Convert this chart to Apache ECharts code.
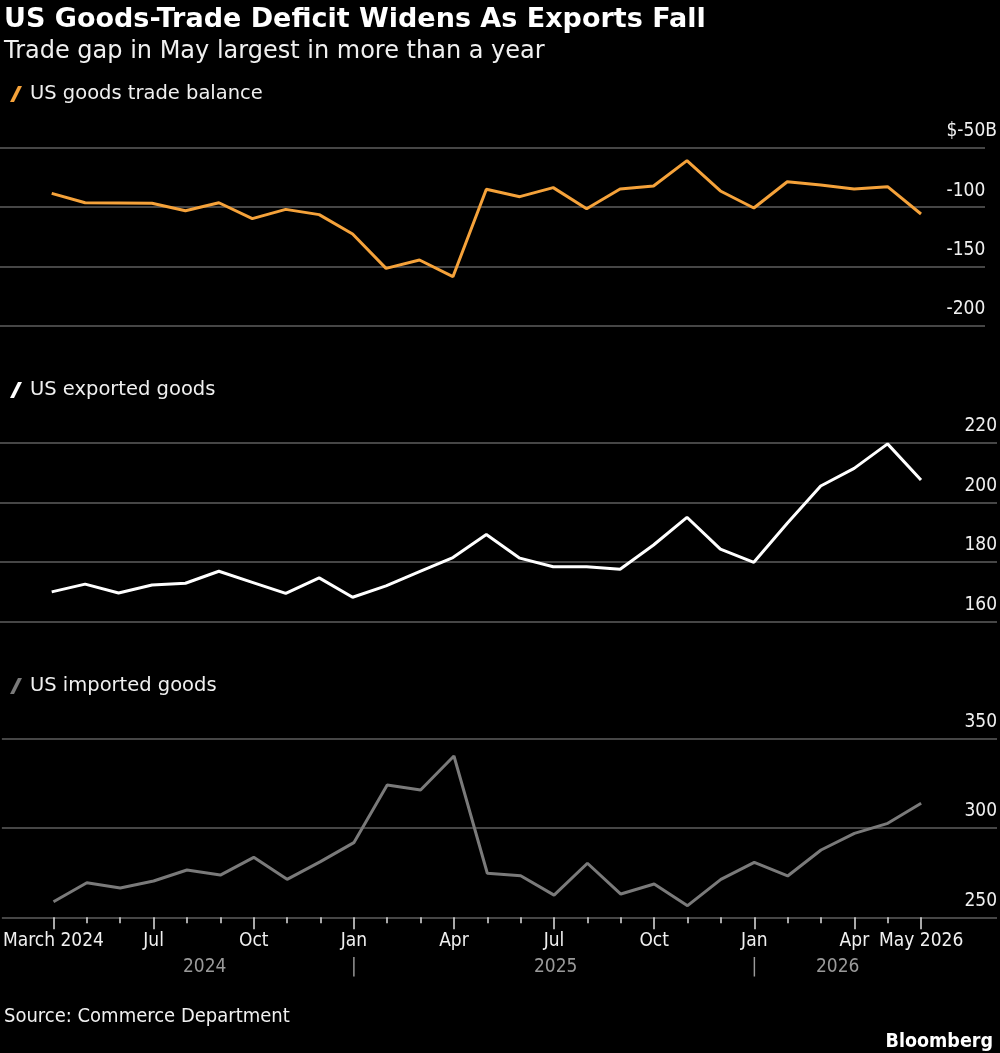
<!DOCTYPE html>
<html>
<head>
<meta charset="UTF-8">
<title>US Goods-Trade Deficit Widens As Exports Fall</title>
<script src="https://cdn.jsdelivr.net/npm/echarts@6/dist/echarts.min.js"></script>
<style>
  html, body { margin: 0; padding: 0; background: #000; }
  #main { width: 1000px; height: 1053px; }
</style>
</head>
<body>
<div id="main"></div>
<script>
// monthly values, $ billions (27 months)
var balance = [-88.4, -96.3, -96.5, -96.8, -103.0, -96.3, -109.7, -101.9, -106.3, -122.6,
  -151.5, -144.5, -158.5, -85.0, -91.2, -83.6, -101.3, -84.7, -82.2, -60.9,
  -86.4, -100.7, -78.6, -81.4, -84.7, -82.8, -105.8];
var exportsGoods = [170.0, 172.6, 169.6, 172.3, 172.9, 176.9, 173.2, 169.5, 174.7, 168.2,
  172.0, 176.8, 181.5, 189.2, 181.3, 178.4, 178.4, 177.6, 185.7, 195.0,
  184.3, 179.9, 193.0, 205.5, 211.4, 219.6, 207.5];
var importsGoods = [258.7, 269.3, 266.4, 270.3, 276.4, 273.6, 283.5, 271.2, 281.1, 291.7,
  323.9, 321.1, 340.1, 274.6, 273.2, 262.4, 280.2, 263.0, 268.6, 256.5,
  271.2, 280.7, 273.1, 287.6, 296.9, 302.5, 313.7];

var monthTickIdx = [0, 3, 6, 9, 12, 15, 18, 21, 24, 26];
var monthTickLabels = ['March 2024', 'Jul', 'Oct', 'Jan', 'Apr', 'Jul', 'Oct', 'Jan', 'Apr', 'May 2026'];
var yearLabelPos = [4.53, 9, 15.05, 21, 23.5];
var yearLabels = ['2024', '|', '2025', '|', '2026'];

var FONT = '"DejaVu Sans Condensed", "Liberation Sans Narrow", "DejaVu Sans", sans-serif';
var FONT_WIDE = '"DejaVu Sans", sans-serif';
var GRID_COLOR = '#5e5e5e';

// x scale: first point at 51.7px, last at 921px
var step = (921 - 51.7) / 26;
var xMin = -51.7 / step;
function xMaxFor(right) { return (right - 51.7) / step; }

var allIdx = balance.map(function (v, i) { return i; });
function pairs(arr) { return arr.map(function (v, i) { return [i, v]; }); }

function lookup(keys, labels) {
  return function (val) {
    for (var i = 0; i < keys.length; i++) {
      if (Math.abs(keys[i] - val) < 1e-6) return labels[i];
    }
    return '';
  };
}

function plainX(grid, max) {
  return {
    type: 'value', gridIndex: grid, min: xMin, max: max,
    axisLine: { show: false }, axisTick: { show: false },
    axisLabel: { show: false }, splitLine: { show: false }
  };
}

function yAx(grid, min, max, interval, fmt, margin) {
  return {
    type: 'value', gridIndex: grid, position: 'right',
    min: min, max: max, interval: interval,
    axisLine: { show: false }, axisTick: { show: false },
    splitLine: { lineStyle: { color: GRID_COLOR, width: 1.5 } },
    axisLabel: {
      inside: true, margin: margin, verticalAlign: 'bottom',
      padding: [0, 0, 7, 0],
      color: '#f0f0f0', fontSize: 19, fontFamily: FONT,
      formatter: fmt,
      rich: {
        h: { color: 'transparent', fontSize: 19, fontFamily: FONT },
        b: { color: '#f0f0f0', fontSize: 19, fontFamily: FONT }
      }
    }
  };
}

function legendSlash(name, color, top) {
  return {
    data: [name], left: 5, top: top, itemWidth: 12, itemHeight: 16,
    icon: 'path://M0,16 L8,0 L12,0 L4,16 Z',
    itemStyle: { color: color },
    textStyle: { color: '#f0f0f0', fontSize: 19.5, fontFamily: FONT_WIDE, padding: [0, 0, 0, 3] },
    selectedMode: false
  };
}

var option = {
  backgroundColor: '#000',
  animation: false,
  title: [
    {
      text: 'US Goods-Trade Deficit Widens As Exports Fall',
      subtext: 'Trade gap in May largest in more than a year',
      left: -1, top: 1, itemGap: 7,
      textStyle: { color: '#fff', fontSize: 27, fontWeight: 'bold', fontFamily: FONT_WIDE },
      subtextStyle: { color: '#f0f0f0', fontSize: 24, fontFamily: FONT_WIDE }
    },
    {
      text: 'Source: Commerce Department', left: -1, top: 1002,
      textStyle: { color: '#f0f0f0', fontSize: 20, fontWeight: 'normal', fontFamily: FONT }
    },
    {
      text: 'Bloomberg', right: 2, top: 1027,
      textStyle: { color: '#fff', fontSize: 19.5, fontWeight: 'bold', fontFamily: FONT }
    }
  ],
  legend: [
    legendSlash('US goods trade balance', '#f5a23a', 79),
    legendSlash('US exported goods', '#ffffff', 375),
    legendSlash('US imported goods', '#7a7a7a', 671)
  ],
  grid: [
    { left: 0, right: 15, top: 147.7, height: 178.3 },
    { left: 0, right: 3, top: 442.7, height: 179 },
    { left: 0, right: 3, top: 738.3, height: 179 }
  ],
  xAxis: [
    plainX(0, xMaxFor(985)),
    plainX(1, xMaxFor(997)),
    // short monthly ticks
    {
      type: 'value', gridIndex: 2, min: xMin, max: xMaxFor(997),
      axisLine: { show: false },
      axisTick: { show: true, customValues: allIdx, length: 6, lineStyle: { color: '#e0e0e0', width: 1.5 } },
      axisLabel: { show: false }, splitLine: { show: false }
    },
    // tall quarterly ticks with month labels
    {
      type: 'value', gridIndex: 2, min: xMin, max: xMaxFor(997), position: 'bottom',
      axisLine: { show: false },
      axisTick: { show: true, customValues: monthTickIdx, length: 12, lineStyle: { color: '#e0e0e0', width: 1.5 } },
      axisLabel: {
        customValues: monthTickIdx, formatter: lookup(monthTickIdx, monthTickLabels),
        color: '#f0f0f0', fontSize: 19, fontFamily: FONT, margin: 14
      },
      splitLine: { show: false }
    },
    // year row
    {
      type: 'value', gridIndex: 2, min: xMin, max: xMaxFor(997), position: 'bottom', offset: 26,
      axisLine: { show: false }, axisTick: { show: false },
      axisLabel: {
        customValues: yearLabelPos, formatter: lookup(yearLabelPos, yearLabels),
        color: '#9a9a9a', fontSize: 19, fontFamily: FONT, margin: 14
      },
      splitLine: { show: false }
    }
  ],
  yAxis: [
    yAx(0, -200, -50, 50, function (v) { return v === -50 ? '$-50{b|B}' : v + '{h|B}'; }, -12),
    yAx(1, 160, 220, 20, function (v) { return String(v); }, 0),
    yAx(2, 250, 350, 50, function (v) { return String(v); }, 0)
  ],
  series: [
    {
      name: 'US goods trade balance', type: 'line', xAxisIndex: 0, yAxisIndex: 0,
      data: pairs(balance), showSymbol: false,
      lineStyle: { color: '#f5a23a', width: 3 }, itemStyle: { color: '#f5a23a' }
    },
    {
      name: 'US exported goods', type: 'line', xAxisIndex: 1, yAxisIndex: 1,
      data: pairs(exportsGoods), showSymbol: false,
      lineStyle: { color: '#ffffff', width: 3 }, itemStyle: { color: '#ffffff' }
    },
    {
      name: 'US imported goods', type: 'line', xAxisIndex: 3, yAxisIndex: 2,
      data: pairs(importsGoods), showSymbol: false,
      lineStyle: { color: '#7a7a7a', width: 3 }, itemStyle: { color: '#7a7a7a' }
    }
  ]
};

var chart = echarts.init(document.getElementById('main'), null, { renderer: 'canvas' });
chart.setOption(option);
</script>
</body>
</html>
